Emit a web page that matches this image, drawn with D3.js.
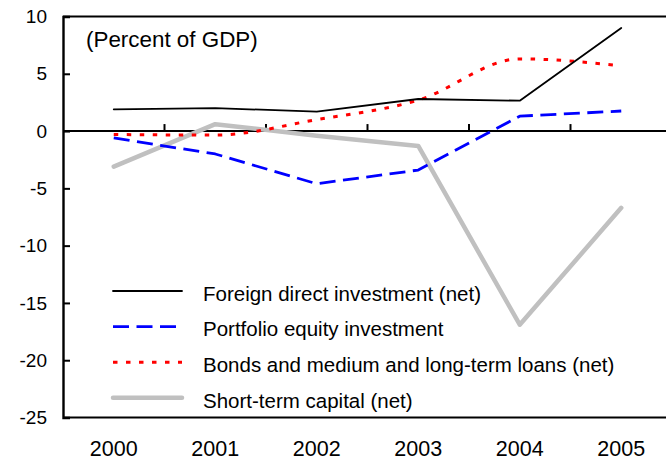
<!DOCTYPE html>
<html>
<head>
<meta charset="utf-8">
<script src="https://cdn.jsdelivr.net/npm/d3@7"></script>
<style>
  html, body { margin: 0; padding: 0; background: #fff; }
  svg { display: block; font-family: "Liberation Sans", Arial, sans-serif; }
</style>
</head>
<body>
<svg id="chart" width="666" height="460"></svg>
<script>
const years = ["2000", "2001", "2002", "2003", "2004", "2005"];
const fdi = [1.9, 2.0, 1.7, 2.8, 2.65, 9.0];
const portfolio = [-0.6, -2.0, -4.6, -3.4, 1.3, 1.75];
const bonds = [-0.3, -0.35, 1.0, 2.7, 6.3, 5.7];
const shortTerm = [-3.1, 0.6, -0.4, -1.3, -16.9, -6.7];
const yTicks = [10, 5, 0, -5, -10, -15, -20, -25];
const seriesNames = [
  "Foreign direct investment (net)",
  "Portfolio equity investment",
  "Bonds and medium and long-term loans (net)",
  "Short-term capital (net)"
];
const unitNote = "(Percent of GDP)";

const svg = d3.select("#chart");
const mLeft = 63, mRight = 672, mTop = 16.5, mBottom = 417.5;

const x = d3.scaleBand().domain(years).range([mLeft, mRight]).padding(0);
const y = d3.scaleLinear().domain([-25, 10]).range([mBottom, mTop]);

// frame lines
svg.append("line").attr("x1", mLeft).attr("x2", mRight).attr("y1", mTop).attr("y2", mTop)
  .attr("stroke", "#000").attr("stroke-width", 2.2);
svg.append("line").attr("x1", mLeft).attr("x2", mRight).attr("y1", mBottom).attr("y2", mBottom)
  .attr("stroke", "#000").attr("stroke-width", 2.2);

// y axis: ticks inward
const yAxis = d3.axisRight(y).tickValues(yTicks).tickSize(7).tickFormat("");
const gy = svg.append("g").attr("transform", `translate(${mLeft},0)`).call(yAxis);
gy.select(".domain").attr("stroke", "#000").attr("stroke-width", 2.4);
gy.selectAll(".tick line").attr("stroke", "#000").attr("stroke-width", 2);

svg.append("g").selectAll("text").data(yTicks).join("text")
  .attr("x", 47).attr("y", d => y(d)).attr("dy", "0.35em")
  .attr("text-anchor", "end").attr("font-size", 19).attr("fill", "#000")
  .text(d => d);

// zero line with category-boundary ticks
const zeroY = y(0);
svg.append("line").attr("x1", mLeft).attr("x2", mRight).attr("y1", zeroY).attr("y2", zeroY)
  .attr("stroke", "#000").attr("stroke-width", 2);
svg.append("g").selectAll("line").data(years.slice(1)).join("line")
  .attr("x1", d => x(d)).attr("x2", d => x(d))
  .attr("y1", zeroY).attr("y2", zeroY - 7)
  .attr("stroke", "#000").attr("stroke-width", 2);

// x labels
svg.append("g").selectAll("text").data(years).join("text")
  .attr("x", d => x(d) + x.bandwidth() / 2).attr("y", 455.5)
  .attr("text-anchor", "middle").attr("font-size", 21.5).attr("fill", "#000")
  .text(d => d);

// title note
svg.append("text").attr("x", 86).attr("y", 47).attr("font-size", 22.4)
  .attr("fill", "#000").text(unitNote);

const cx = d => x(d) + x.bandwidth() / 2;
const styles = [
  { data: fdi, color: "#000000", width: 1.8, dash: null, curve: d3.curveLinear },
  { data: portfolio, color: "#0000ff", width: 2.8, dash: "16,7.5", curve: d3.curveLinear },
  { data: bonds, color: "#ff0000", width: 3, dash: "4.5,8.5", curve: d3.curveMonotoneX },
  { data: shortTerm, color: "#c0c0c0", width: 4.5, dash: null, curve: d3.curveLinear }
];

// draw order: short-term beneath others
const drawOrder = [3, 1, 2, 0];
drawOrder.forEach(i => {
  const s = styles[i];
  const line = d3.line().x((d, j) => cx(years[j])).y(d => y(d)).curve(s.curve);
  svg.append("path").datum(s.data)
    .attr("d", line).attr("fill", "none")
    .attr("stroke", s.color).attr("stroke-width", s.width)
    .attr("stroke-dasharray", s.dash)
    .attr("stroke-linecap", s.dash ? "butt" : "round")
    .attr("stroke-linejoin", "round");
});

// legend
const legY = d3.scalePoint().domain(seriesNames).range([291, 397.8]);
const leg = svg.append("g");
seriesNames.forEach((name, i) => {
  const s = styles[i];
  const yy = legY(name);
  leg.append("line").attr("x1", 113).attr("x2", 182).attr("y1", yy).attr("y2", yy)
    .attr("stroke", s.color).attr("stroke-width", s.width)
    .attr("stroke-dasharray", s.dash)
    .attr("stroke-linecap", s.dash ? "butt" : "round");
  leg.append("text").attr("x", 203).attr("y", yy + 9.8)
    .attr("font-size", 20.5).attr("fill", "#000").text(name);
});
</script>
</body>
</html>
